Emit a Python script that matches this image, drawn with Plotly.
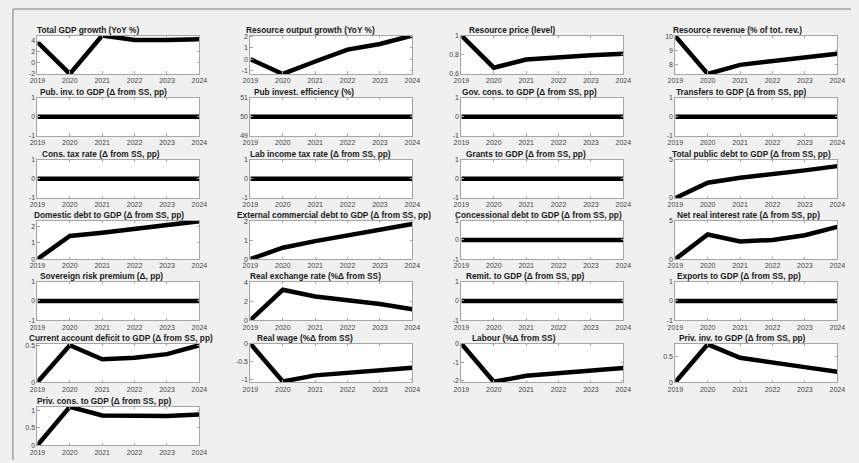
import plotly.graph_objects as go

years = [2019, 2020, 2021, 2022, 2023, 2024]
year_labels = ["2019", "2020", "2021", "2022", "2023", "2024"]

titles = [
    "Total GDP growth (YoY %)", "Resource output growth (YoY %)", "Resource price (level)", "Resource revenue (% of tot. rev.)",
    "Pub. inv. to GDP (Δ from SS, pp)", "Pub invest. efficiency (%)", "Gov. cons. to GDP (Δ from SS, pp)", "Transfers to GDP (Δ from SS, pp)",
    "Cons. tax rate (Δ from SS, pp)", "Lab income tax rate (Δ from SS, pp)", "Grants to GDP (Δ from SS, pp)", "Total public debt to GDP (Δ from SS, pp)",
    "Domestic debt to GDP (Δ from SS, pp)", "External commercial debt to GDP (Δ from SS, pp)", "Concessional debt to GDP (Δ from SS, pp)", "Net real interest rate (Δ from SS, pp)",
    "Sovereign risk premium (Δ, pp)", "Real exchange rate (%Δ from SS)", "Remit. to GDP (Δ from SS, pp)", "Exports to GDP (Δ from SS, pp)",
    "Current account deficit to GDP (Δ from SS, pp)", "Real wage (%Δ from SS)", "Labour (%Δ from SS)", "Priv. inv. to GDP (Δ from SS, pp)",
    "Priv. cons. to GDP (Δ from SS, pp)",
]

gdp_growth = [3.8, -2.0, 5.0, 4.2, 4.2, 4.3]
res_output = [0.0, -1.3, -0.2, 0.85, 1.35, 2.1]
res_price = [1.0, 0.665, 0.75, 0.775, 0.795, 0.81]
res_revenue = [10.0, 7.3, 7.95, 8.2, 8.5, 8.75]
pub_inv = [0, 0, 0, 0, 0, 0]
pub_eff = [50, 50, 50, 50, 50, 50]
gov_cons = [0, 0, 0, 0, 0, 0]
transfers = [0, 0, 0, 0, 0, 0]
cons_tax = [0, 0, 0, 0, 0, 0]
lab_tax = [0, 0, 0, 0, 0, 0]
grants = [0, 0, 0, 0, 0, 0]
total_debt = [0.0, 2.0, 2.65, 3.1, 3.6, 4.15]
domestic_debt = [0.0, 1.4, 1.6, 1.85, 2.05, 2.3]
external_debt = [0.0, 0.6, 0.95, 1.25, 1.55, 1.85]
concessional_debt = [0, 0, 0, 0, 0, 0]
net_rate = [0.0, 3.2, 2.3, 2.5, 3.1, 4.2]
risk_premium = [0, 0, 0, 0, 0, 0]
real_exch = [0.0, 3.2, 2.5, 2.15, 1.7, 1.15]
remit = [0, 0, 0, 0, 0, 0]
exports = [0, 0, 0, 0, 0, 0]
ca_deficit = [0.0, 0.5, 0.31, 0.33, 0.38, 0.5]
real_wage = [0.0, -1.05, -0.88, -0.81, -0.75, -0.67]
labour = [0.0, -2.08, -1.75, -1.63, -1.5, -1.33]
priv_inv = [0.0, 0.73, 0.47, 0.37, 0.29, 0.2]
priv_cons = [0.0, 1.1, 0.85, 0.84, 0.84, 0.88]

series = [gdp_growth, res_output, res_price, res_revenue,
          pub_inv, pub_eff, gov_cons, transfers,
          cons_tax, lab_tax, grants, total_debt,
          domestic_debt, external_debt, concessional_debt, net_rate,
          risk_premium, real_exch, remit, exports,
          ca_deficit, real_wage, labour, priv_inv,
          priv_cons]

flat = ([-1, 1], [-1, 0, 1])
axis_setup = [
    ([-2, 5], [-2, 0, 2, 4]), ([-1.3, 2.1], [-1, 0, 1, 2]), ([0.6, 1.0], [0.6, 0.8, 1]), ([7.3, 10.05], [8, 9, 10]),
    flat, ([49, 51], [49, 50, 51]), flat, flat,
    flat, flat, flat, ([0, 5], [0, 5]),
    ([0, 2.33], [0, 1, 2]), ([0, 2.03], [0, 1, 2]), flat, ([0, 5], [0, 5]),
    flat, ([0, 4.05], [0, 2, 4]), flat, flat,
    ([0, 0.52], [0, 0.5]), ([-1.07, 0], [-1, -0.5, 0]), ([-2.1, 0], [-2, -1, 0]), ([0, 0.74], [0, 0.5]),
    ([0, 1.1], [0, 0.5, 1]),
]

title_left_px = [29, 241, 469, 677, 32, 250, 462, 680, 34, 246, 466, 676,
                 25, 232, 454, 681, 32, 246, 466, 681, 20, 253, 472, 683, 29]

W, H = 859, 463
col_left = [30, 247, 462, 680]
col_w = 165
row_top = [32, 95, 158, 220, 282, 345, 409]
row_h = 39

fig = go.Figure()
layout = {}
annotations = []
font_fam = "Liberation Sans, Arial, sans-serif"

for i, (ys, (rng, ticks)) in enumerate(zip(series, axis_setup)):
    r, c = divmod(i, 4)
    n = i + 1
    xa = "x" if n == 1 else f"x{n}"
    ya = "y" if n == 1 else f"y{n}"
    fig.add_trace(go.Scatter(x=years, y=ys, mode="lines", xaxis=xa, yaxis=ya,
                             line=dict(color="black", width=4.5), showlegend=False,
                             cliponaxis=False, hoverinfo="skip"))
    x0 = col_left[c] / W
    x1 = (col_left[c] + col_w) / W
    y1 = 1 - row_top[r] / H
    y0 = 1 - (row_top[r] + row_h) / H
    common = dict(showline=True, linecolor="#a6a6a6", linewidth=1, mirror="ticks",
                  ticks="inside", ticklen=2.5, tickcolor="#a6a6a6", showgrid=False,
                  zeroline=False, fixedrange=True,
                  tickfont=dict(size=7, color="#444", family=font_fam))
    layout["xaxis" if n == 1 else f"xaxis{n}"] = dict(domain=[x0, x1], anchor=ya,
        range=[2019, 2024], tickvals=years, ticktext=year_labels, **common)
    layout["yaxis" if n == 1 else f"yaxis{n}"] = dict(domain=[y0, y1], anchor=xa,
        range=rng, tickvals=ticks, ticktext=[f"{t:g}" for t in ticks], **common)
    annotations.append(dict(text=f"<b>{titles[i]}</b>", xref="paper", yref="paper",
        x=title_left_px[i] / W, y=y1, xanchor="left", yanchor="bottom",
        showarrow=False, font=dict(size=8.3, color="#1a1a1a", family=font_fam), borderpad=0))

shapes = [
    dict(type="line", xref="paper", yref="paper", x0=5 / W, x1=1, y0=1 - 5 / H, y1=1 - 5 / H,
         line=dict(color="#a0a0a0", width=1.5)),
    dict(type="line", xref="paper", yref="paper", x0=5 / W, x1=5 / W, y0=0, y1=1 - 5 / H,
         line=dict(color="#a0a0a0", width=1.5)),
]

fig.update_layout(width=W, height=H, margin=dict(l=0, r=0, t=0, b=0),
                  paper_bgcolor="#f0f0f0", plot_bgcolor="white",
                  annotations=annotations, shapes=shapes, **layout)
fig.write_html("out.html", config={"displayModeBar": False, "responsive": False},
               post_script="document.documentElement.style.margin='0';document.body.style.margin='0';document.body.style.overflow='hidden';")
